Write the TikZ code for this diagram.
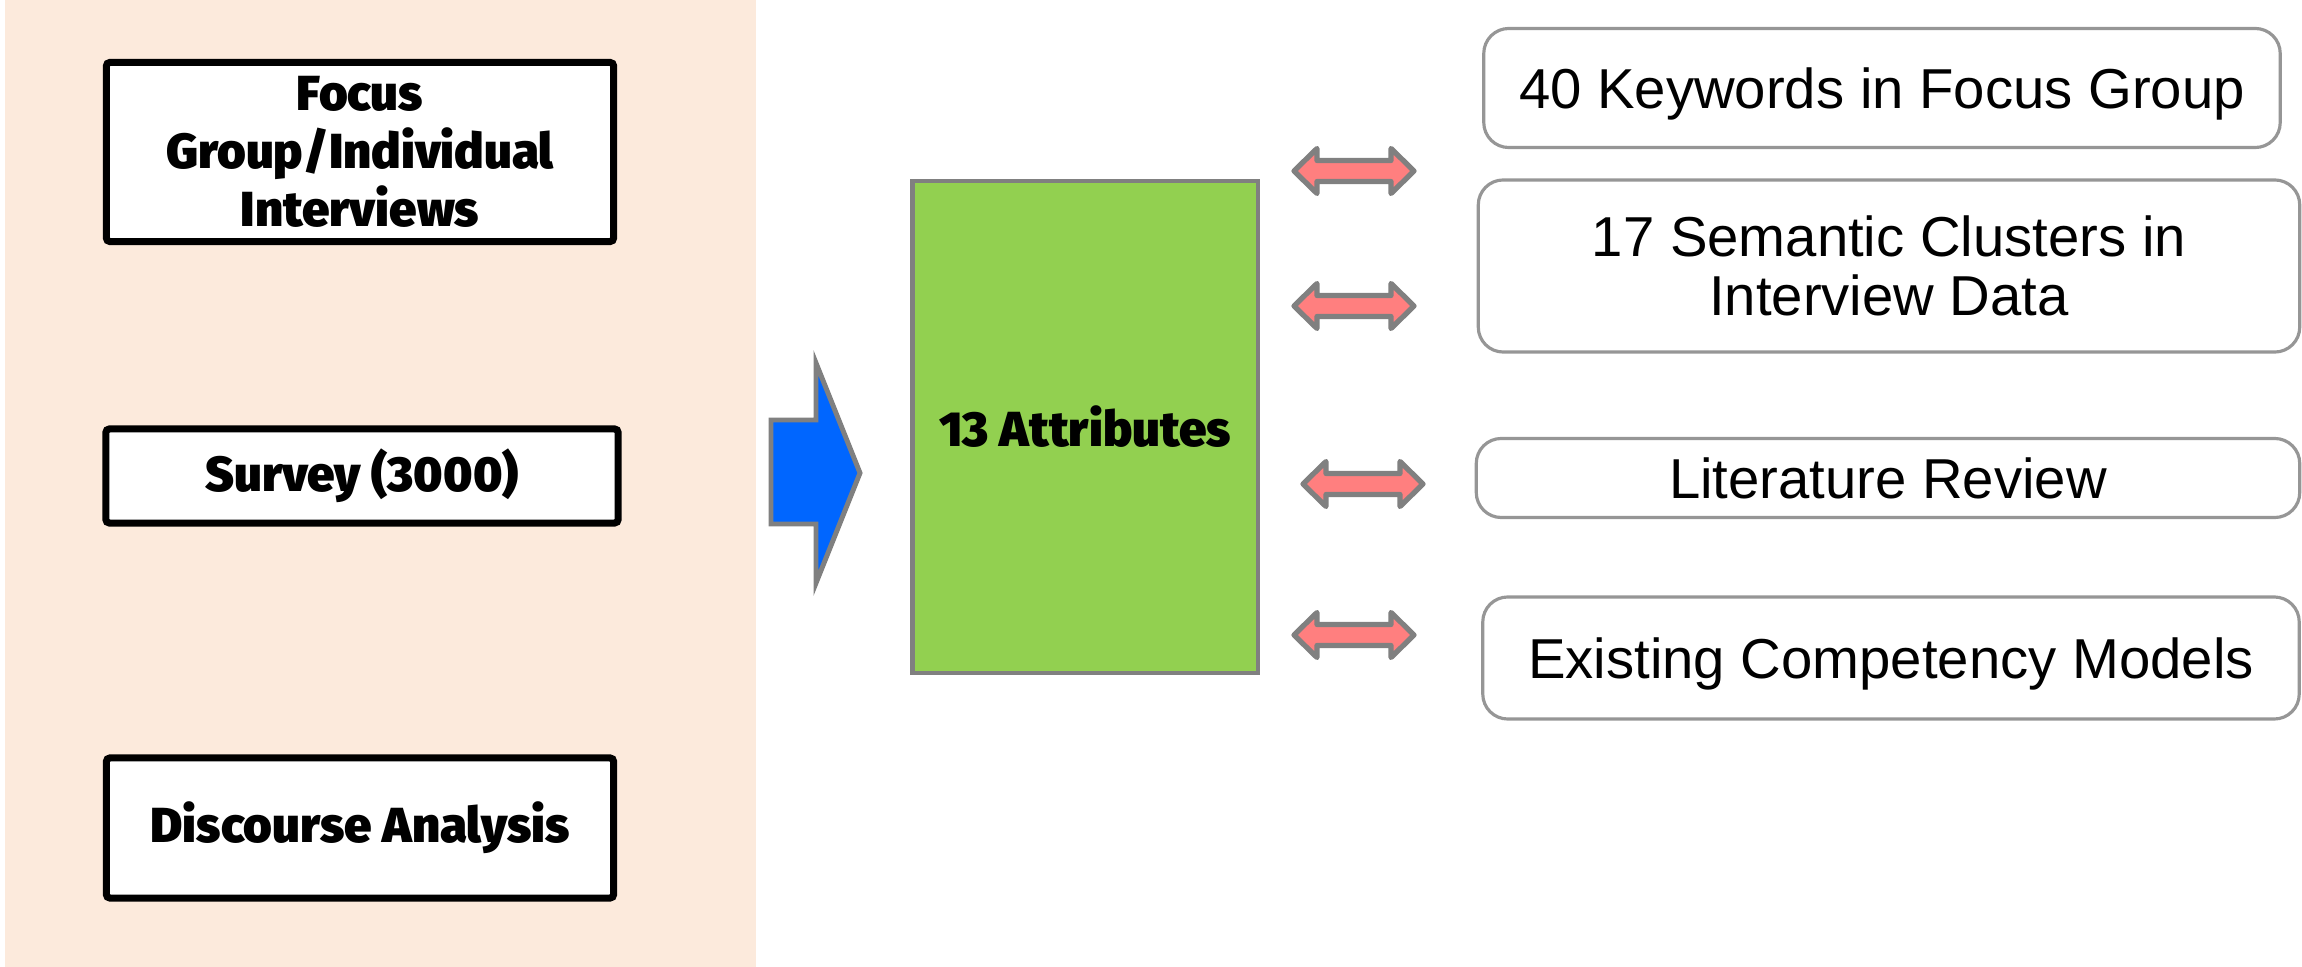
\documentclass[tikz,border=0pt]{standalone}
\usepackage{fontspec}
\setmainfont{Liberation Sans}
\newfontfamily\headfont{Fira Sans}[BoldFont={Fira Sans Black}]
\usepackage{tikz}

\definecolor{Peach}{RGB}{252,234,220}
\definecolor{AttrGreen}{RGB}{146,208,80}
\definecolor{FlowBlue}{RGB}{0,102,255}
\definecolor{LinkRed}{RGB}{255,127,127}
\definecolor{EdgeGray}{RGB}{128,128,128}
\definecolor{BoxGray}{RGB}{150,150,150}

\begin{document}
\begin{tikzpicture}[x=0.01cm, y=-0.01cm,
    method/.style={draw=black, line width=2pt, fill=white, rounded corners=1pt,
      align=center, inner sep=0pt, font=\headfont\bfseries\fontsize{14}{16.5}\selectfont},
    source/.style={draw=BoxGray, line width=0.9pt, fill=white, rounded corners=0.25cm,
      align=center, inner sep=0pt, text depth=0pt, font=\fontsize{16}{16.8}\selectfont},
    link/.style={draw=EdgeGray, line width=1.5pt, fill=LinkRed, line join=round}]
    \useasboundingbox (0,0) rectangle (2302,967);

    % data collection panel
    \fill[Peach] (5,0) rectangle (756,967);
    \node[method, minimum width=5.07cm, minimum height=1.79cm] (focus) at (360,152)
      {Focus\\Group/Individual\\Interviews};
    \node[method, minimum width=5.12cm, minimum height=0.94cm] (survey) at (362,476)
      {Survey (3000)};
    \node[method, minimum width=5.07cm, minimum height=1.40cm] (discourse) at (360,828)
      {Discourse Analysis};

    % flow into the attributes
    \draw[draw=EdgeGray, line width=1.4pt, fill=FlowBlue, line join=miter]
      (771,420) -- (816,420) -- (816,363) -- (860,473) -- (816,583) -- (816,524)
      -- (771,524) -- cycle;

    \node[draw=EdgeGray, line width=1.2pt, fill=AttrGreen, minimum width=3.45cm,
      minimum height=4.92cm, inner sep=0pt,
      font=\headfont\bfseries\fontsize{14}{16.5}\selectfont] (attr) at (1085,427)
      {13 Attributes};

    % validation sources
    \node[source, minimum width=7.96cm, minimum height=1.19cm] (keywords) at (1882,88)
      {40 Keywords in Focus Group};
    \node[source, minimum width=8.21cm, minimum height=1.72cm] (clusters) at (1889,266)
      {17 Semantic Clusters in\\Interview Data};
    \node[source, minimum width=8.23cm, minimum height=0.79cm] (review) at (1888,478)
      {Literature Review};
    \node[source, minimum width=8.16cm, minimum height=1.22cm] (models) at (1891,658)
      {Existing Competency Models};

    \foreach \cx/\cy in {1354/171, 1354/306, 1363/484, 1354/635} {
      \draw[link] (\cx-60,\cy) -- (\cx-37,\cy-22.5) -- (\cx-37,\cy-10.5)
        -- (\cx+37,\cy-10.5) -- (\cx+37,\cy-22.5) -- (\cx+60,\cy)
        -- (\cx+37,\cy+22.5) -- (\cx+37,\cy+10.5) -- (\cx-37,\cy+10.5)
        -- (\cx-37,\cy+22.5) -- cycle;
    }

\end{tikzpicture}
\end{document}
